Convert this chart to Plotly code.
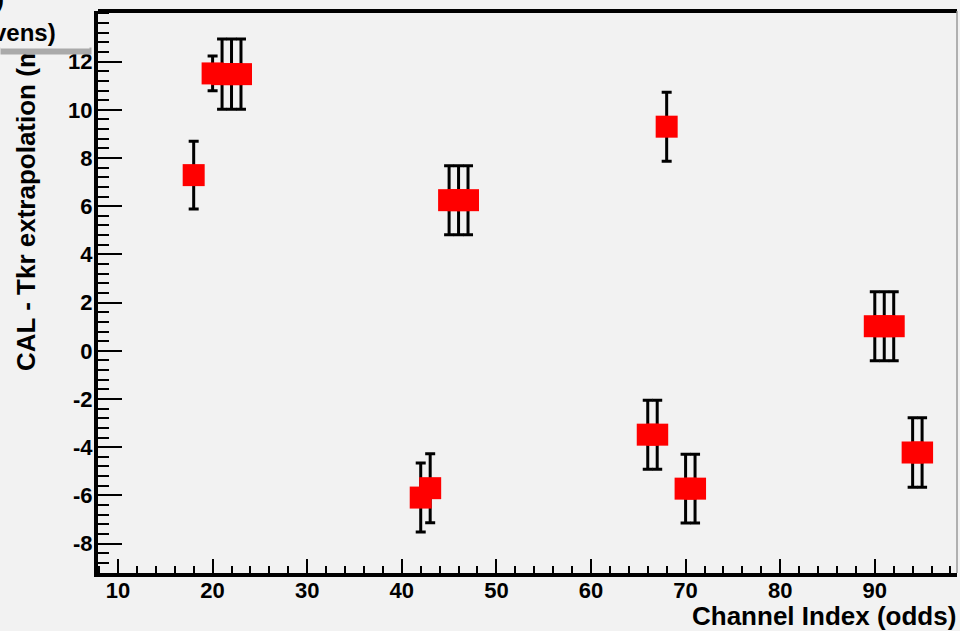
import plotly.graph_objects as go

# ---- data ----
channel = [18, 20, 21, 22, 23, 42, 43, 45, 46, 47, 66, 67, 68, 70, 71, 90, 91, 92, 94, 95]
offset = [7.29, 11.51, 11.48, 11.48, 11.48, -6.09, -5.70, 6.25, 6.25, 6.25,
          -3.48, -3.48, 9.30, -5.72, -5.72, 1.02, 1.02, 1.02, -4.22, -4.22]
offset_err = [1.41, 0.72, 1.46, 1.46, 1.46, 1.43, 1.43, 1.43, 1.43, 1.43,
              1.43, 1.43, 1.43, 1.43, 1.43, 1.43, 1.43, 1.43, 1.44, 1.44]

x_tick_vals = [10, 20, 30, 40, 50, 60, 70, 80, 90]
x_tick_text = ["10", "20", "30", "40", "50", "60", "70", "80", "90"]
y_tick_vals = [-8, -6, -4, -2, 0, 2, 4, 6, 8, 10, 12]
y_tick_text = ["-8", "-6", "-4", "-2", "0", "2", "4", "6", "8", "10", "12"]

x_title = "Channel Index (odds)"
y_title = "CAL - Tkr extrapolation (mm)"
box_text = "vens)"

# ---- layout geometry (pixels) ----
W, H = 960, 631
L, R, T, B = 98, 3, 11, 58
PW, PH = W - L - R, H - T - B


def px(xp):
    return (xp - L) / PW


def py(yp):
    return (H - B - yp) / PH


BG = "#f2f2f2"
FONT = "Liberation Sans, Arial, sans-serif"

fig = go.Figure()
fig.add_trace(go.Scatter(
    x=channel, y=offset, mode="markers",
    marker=dict(symbol="square", size=22, color="#ff0000", line=dict(width=0)),
    error_y=dict(type="data", array=offset_err, color="black", thickness=3, width=5),
    showlegend=False, hoverinfo="x+y",
))

tickfont = dict(family=FONT, size=22, color="black", weight="bold")

fig.update_layout(
    width=W, height=H,
    margin=dict(l=L, r=R, t=T, b=B, pad=0),
    paper_bgcolor=BG, plot_bgcolor=BG,
    xaxis=dict(
        range=[7.886, 98.69], showgrid=False, zeroline=False,
        showline=True, linecolor="black", linewidth=4, mirror=False,
        ticks="inside", ticklen=14, tickwidth=2, tickcolor="black",
        tickvals=x_tick_vals, ticktext=x_tick_text, tickfont=tickfont,
        ticklabelstandoff=-5,
        minor=dict(dtick=2, tick0=0, ticks="inside", ticklen=7, tickwidth=2,
                   tickcolor="black", showgrid=False),
    ),
    yaxis=dict(
        range=[-9.22, 14.1], showgrid=False, zeroline=False,
        showline=True, linecolor="black", linewidth=4, mirror=False,
        ticks="inside", ticklen=24, tickwidth=2, tickcolor="black",
        tickvals=y_tick_vals, ticktext=y_tick_text, tickfont=tickfont,
        ticklabelstandoff=-3,
        minor=dict(dtick=0.4, tick0=0, ticks="inside", ticklen=11, tickwidth=2,
                   tickcolor="black", showgrid=False),
    ),
    shapes=[
        dict(type="line", xref="paper", yref="paper", x0=0, x1=1, y0=1, y1=1,
             line=dict(color="black", width=4)),
        dict(type="line", xref="paper", yref="paper", x0=1, x1=1, y0=0, y1=1,
             line=dict(color="#9a9a9a", width=1.5)),
    ],
)

annotations = [
    # rotated y-axis title (bottom aligned at the start of the text)
    dict(text=y_title, textangle=-90, xref="paper", yref="paper",
         x=px(26), y=py(373), xanchor="center", yanchor="bottom",
         showarrow=False, font=dict(family=FONT, size=26, color="black", weight="bold")),
    # shadow of the title box
    dict(text=" ", xref="paper", yref="paper", x=px(0), y=py(47),
         xanchor="left", yanchor="top", width=90, height=6, borderpad=0,
         bgcolor="#aaaaaa", showarrow=False, font=dict(size=4)),
    # title box
    dict(text=" ", xref="paper", yref="paper", x=px(0), y=py(0),
         xanchor="left", yanchor="top", width=88, height=47, borderpad=0,
         bgcolor=BG, showarrow=False, font=dict(size=4)),
    dict(text=box_text, xref="paper", yref="paper", x=px(58), y=py(32),
         xanchor="right", yanchor="middle", showarrow=False,
         font=dict(family=FONT, size=24, color="black", weight="bold")),
    dict(text=")", xref="paper", yref="paper", x=px(6), y=py(-2),
         xanchor="right", yanchor="middle", showarrow=False,
         font=dict(family=FONT, size=24, color="black", weight="bold")),
    # x-axis title
    dict(text=x_title, xref="paper", yref="paper", x=px(958), y=py(616),
         xanchor="right", yanchor="middle", showarrow=False,
         font=dict(family=FONT, size=26, color="black", weight="bold")),
]
fig.update_layout(annotations=annotations)

fig.write_html(
    "out.html",
    config={"displayModeBar": False},
    post_script="document.body.style.margin='0';document.body.style.padding='0';"
                "document.body.style.overflow='hidden';",
)
